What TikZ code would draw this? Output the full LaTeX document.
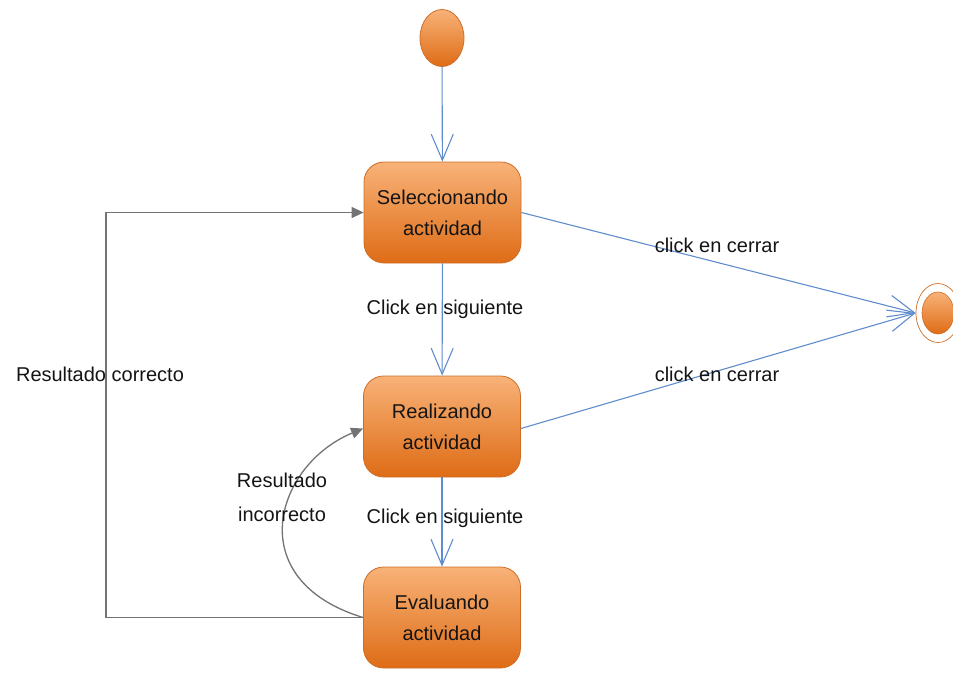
\documentclass[tikz,border=0pt]{standalone}
\usepackage{fontspec}
\setmainfont{Liberation Sans}
\usetikzlibrary{arrows.meta,shapes.geometric}
\definecolor{oborder}{RGB}{205,110,40}
\definecolor{otop}{RGB}{248,178,120}
\definecolor{obot}{RGB}{222,108,22}
\definecolor{bline}{RGB}{95,140,205}
\definecolor{gline}{RGB}{115,115,115}
\definecolor{txt}{RGB}{20,20,20}
\tikzset{
  statebox/.style={draw=oborder, line width=0.8pt, rounded corners=20pt,
    top color=otop, bottom color=obot, minimum width=157pt, minimum height=101pt,
    align=center, text=txt, font=\fontsize{20}{31}\selectfont},
  startdot/.style={ellipse, draw=oborder, line width=0.8pt, top color=otop, bottom color=obot,
    minimum width=44pt, minimum height=57pt, inner sep=0pt},
  lbl/.style={text=txt, font=\fontsize{20}{34}\selectfont, align=center, inner sep=0pt},
  barrow/.style={draw=bline, line width=1.1pt, -{Straight Barb[length=26pt,width=22pt,line width=1.1pt]}},
  garrow/.style={draw=gline, line width=1.3pt, -{Triangle[length=12pt,width=11pt]}}
}
\begin{document}
\begin{tikzpicture}[x=1pt,y=-1pt]
\useasboundingbox (0,0) rectangle (953,673);
\node[startdot] (init) at (442,38) {};
\node[statebox] (sel) at (442.5,212.5) {Seleccionando\\actividad};
\node[statebox] (real) at (442,426.5) {Realizando\\actividad};
\node[statebox] (evaln) at (442,617.5) {Evaluando\\actividad};
\node[ellipse, draw=oborder, line width=0.7pt, minimum width=44pt, minimum height=59pt, inner sep=0pt] (fin) at (938,313) {};
\node[ellipse, draw=oborder, line width=0.6pt, top color=otop, bottom color=obot, minimum width=32pt, minimum height=42pt, inner sep=0pt] (finin) at (938,313) {};

\draw[barrow] (init) -- (sel);
\draw[barrow] (sel) -- (real);
\draw[barrow] (real) -- (evaln);
\draw[barrow] (sel.east) -- (fin.west);
\draw[barrow] ([yshift=-2pt]real.east) -- (fin.west);

\draw[garrow] (evaln.west) -- ++(-257,0) |- (sel.west);
\draw[garrow] (evaln.west) .. controls (240,580) and (275,465) .. ([yshift=-2pt]real.west);

\node[lbl] (l1) at (445,309) {Click en siguiente};
\node[lbl] (l2) at (445,518) {Click en siguiente};
\node[lbl] (l3) at (717,245) {click en cerrar};
\node[lbl] (l4) at (717,374) {click en cerrar};
\node[lbl] (l5) at (100,374) {Resultado correcto};
\node[lbl] (l6) at (282,497) {Resultado\\incorrecto};
\end{tikzpicture}
\end{document}
